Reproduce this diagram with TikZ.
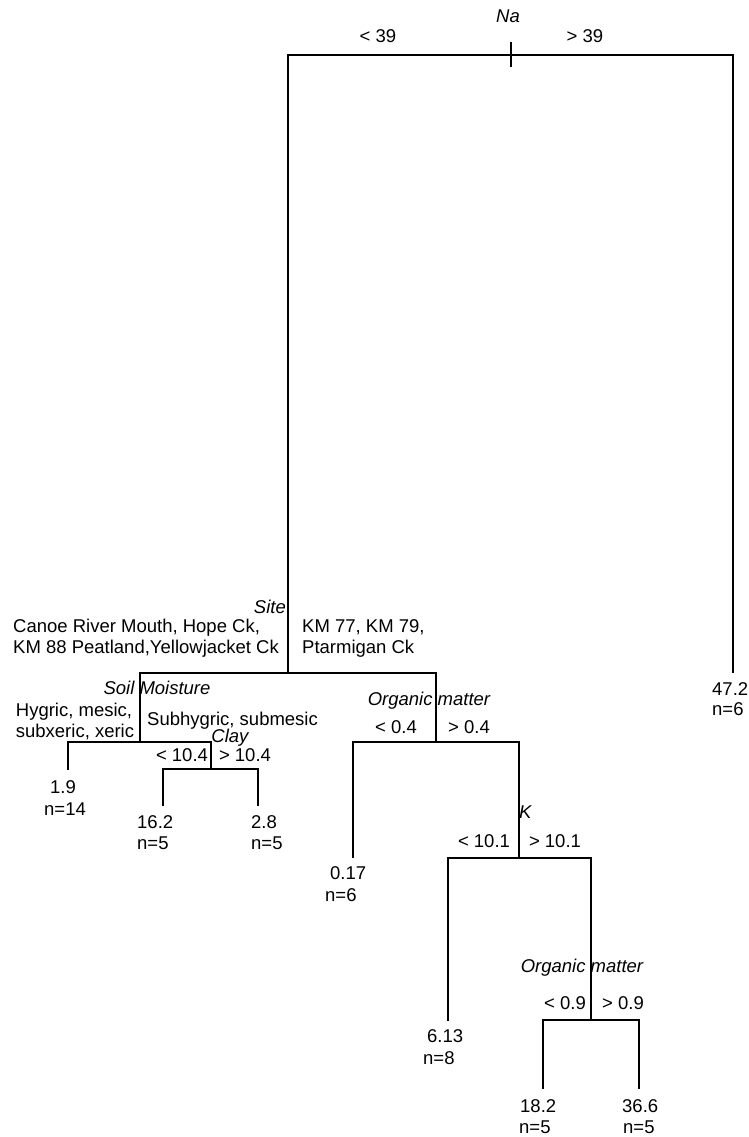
\documentclass[tikz,border=0pt]{standalone}
\usepackage{fontspec}
\setmainfont{Liberation Sans}
\begin{document}
\begin{tikzpicture}[x=1pt,y=-1pt,
  edge/.style={line width=1.6pt},
  lbl/.style={inner sep=0pt,font=\fontsize{18.5}{22}\selectfont},
  var/.style={lbl,font=\fontsize{18.5}{22}\selectfont\itshape}]
\useasboundingbox (0,0) rectangle (748,1137);
% junction coordinates
\coordinate (na) at (511,55);
\coordinate (site) at (288,673);
\coordinate (l47) at (733,673);
\coordinate (soil) at (140,742);
\coordinate (om1) at (436,742);
\coordinate (l19) at (68,770);
\coordinate (clay) at (211,769);
\coordinate (l162) at (163,806);
\coordinate (l28) at (258,806);
\coordinate (l017) at (353,858);
\coordinate (k) at (519,858);
\coordinate (l613) at (448,1021);
\coordinate (om2) at (591,1020);
\coordinate (l182) at (543,1089);
\coordinate (l366) at (639,1089);
\coordinate (tickA) at (511,42);
\coordinate (tickB) at (511,67);
% edges
\draw[edge] (tickA) -- (tickB);
\draw[edge] (na) -| (site);
\draw[edge] (na) -| (l47);
\draw[edge] (site) -| (soil);
\draw[edge] (site) -| (om1);
\draw[edge] (soil) -| (l19);
\draw[edge] (soil) -| (clay);
\draw[edge] (clay) -| (l162);
\draw[edge] (clay) -| (l28);
\draw[edge] (om1) -| (l017);
\draw[edge] (om1) -| (k);
\draw[edge] (k) -| (l613);
\draw[edge] (k) -| (om2);
\draw[edge] (om2) -| (l182);
\draw[edge] (om2) -| (l366);
% split variables
\node[var,anchor=base] (tna) at (508,23) {Na};
\node[var,anchor=base east] (tsite) at (286,613) {Site};
\node[var,anchor=base] (tsoil) at (157,694) {Soil Moisture};
\node[var,anchor=base] (tclay) at (230,742) {Clay};
\node[var,anchor=base] (tom1) at (429,705) {Organic matter};
\node[var,anchor=base west] (tk) at (519,818) {K};
\node[var,anchor=base] (tom2) at (582,972) {Organic matter};
% split labels
\node[lbl,anchor=base] (na-l) at (378,43) {< 39};
\node[lbl,anchor=base] (na-r) at (585,43) {> 39};
\node[lbl,anchor=base west] (site-l1) at (13,632) {Canoe River Mouth, Hope Ck,};
\node[lbl,anchor=base west] (site-l2) at (13,653) {KM 88 Peatland,Yellowjacket Ck};
\node[lbl,anchor=base west] (site-r1) at (302,632) {KM 77, KM 79,};
\node[lbl,anchor=base west] (site-r2) at (302,653) {Ptarmigan Ck};
\node[lbl,anchor=base] (soil-l1) at (74,716) {Hygric, mesic,};
\node[lbl,anchor=base] (soil-l2) at (75,737) {subxeric, xeric};
\node[lbl,anchor=base west] (soil-r) at (147,725) {Subhygric, submesic};
\node[lbl,anchor=base] (clay-l) at (182,761) {< 10.4};
\node[lbl,anchor=base] (clay-r) at (245,761) {> 10.4};
\node[lbl,anchor=base] (om1-l) at (396,733) {< 0.4};
\node[lbl,anchor=base] (om1-r) at (469,733) {> 0.4};
\node[lbl,anchor=base] (k-l) at (484,847) {< 10.1};
\node[lbl,anchor=base] (k-r) at (555,847) {> 10.1};
\node[lbl,anchor=base] (om2-l) at (565,1009) {< 0.9};
\node[lbl,anchor=base] (om2-r) at (623,1009) {> 0.9};
% leaves
\node[lbl,anchor=base west] (v47) at (712,695) {47.2};
\node[lbl,anchor=base west] (n47) at (712,715) {n=6};
\node[lbl,anchor=base west] (v19) at (50,793) {1.9};
\node[lbl,anchor=base west] (n19) at (44,815) {n=14};
\node[lbl,anchor=base west] (v162) at (137,828) {16.2};
\node[lbl,anchor=base west] (n162) at (137,849) {n=5};
\node[lbl,anchor=base west] (v28) at (251,828) {2.8};
\node[lbl,anchor=base west] (n28) at (251,849) {n=5};
\node[lbl,anchor=base west] (v017) at (330,879) {0.17};
\node[lbl,anchor=base west] (n017) at (325,901) {n=6};
\node[lbl,anchor=base west] (v613) at (427,1042) {6.13};
\node[lbl,anchor=base west] (n613) at (423,1064) {n=8};
\node[lbl,anchor=base west] (v182) at (520,1112) {18.2};
\node[lbl,anchor=base west] (n182) at (519,1133) {n=5};
\node[lbl,anchor=base west] (v366) at (622,1112) {36.6};
\node[lbl,anchor=base west] (n366) at (623,1133) {n=5};
\end{tikzpicture}
\end{document}
